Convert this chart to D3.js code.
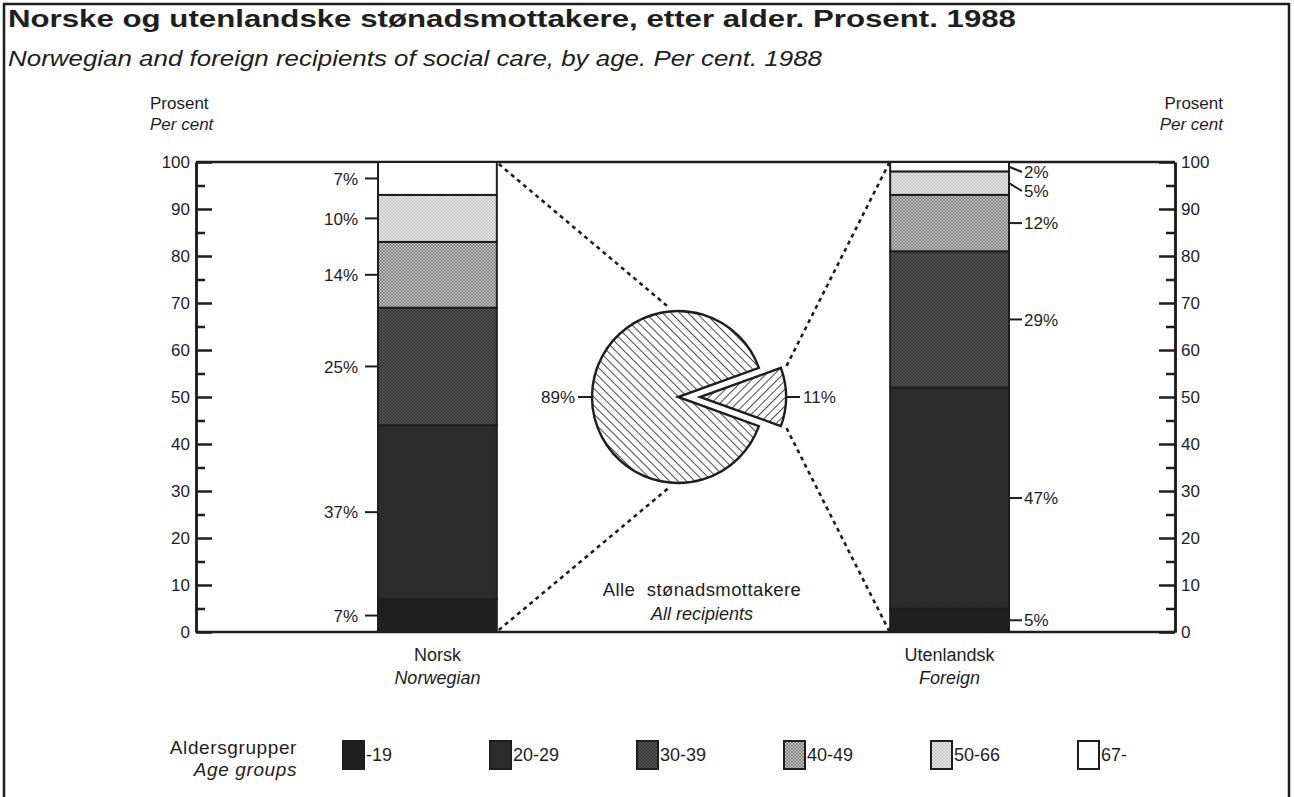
<!DOCTYPE html>
<html><head><meta charset="utf-8">
<script src="https://cdn.jsdelivr.net/npm/d3@7"></script>
<style>
body{margin:0;background:#fff;}
svg{display:block;font-family:"Liberation Sans",Arial,Helvetica,sans-serif;}
</style></head><body>
<svg id="chart" width="1294" height="797"></svg>
<script>
// ---------- data ----------
const ageGroups = ["-19","20-29","30-39","40-49","50-66","67-"];
const categories = ["Norsk","Utenlandsk"];
const categoriesEn = ["Norwegian","Foreign"];
const norwegianValues = [7,37,25,14,10,7];
const foreignValues = [5,47,29,12,5,2];
const pieValues = [89,11];
const pieLabels = ["89%","11%"];
const yTicks = [0,10,20,30,40,50,60,70,80,90,100];
const yMinorTicks = [5,15,25,35,45,55,65,75,85,95];
const titleNo = "Norske og utenlandske stønadsmottakere, etter alder. Prosent. 1988";
const titleEn = "Norwegian and foreign recipients of social care, by age. Per cent. 1988";
const legendTitle = ["Aldersgrupper","Age groups"];
const axisTitle = ["Prosent","Per cent"];
const pieTitle = ["Alle stønadsmottakere","All recipients"];

// ---------- setup ----------
const svg = d3.select("#chart");
const ink = "#1e1e1e";
const defs = svg.append("defs");

function dotPattern(id, bg, dot, size, r){
  const p = defs.append("pattern").attr("id",id).attr("patternUnits","userSpaceOnUse")
    .attr("width",size).attr("height",size);
  p.append("rect").attr("width",size).attr("height",size).attr("fill",bg);
  p.append("circle").attr("cx",size/2).attr("cy",size/2).attr("r",r).attr("fill",dot);
  [[0,0],[size,0],[0,size],[size,size]].forEach(c=>
    p.append("circle").attr("cx",c[0]).attr("cy",c[1]).attr("r",r).attr("fill",dot));
}
dotPattern("pat1","#262626","#3a3a3a",3.2,0.7);
dotPattern("pat2","#2e2e2e","#6a6a6a",3.2,0.8);
dotPattern("pat3","#5c5c5c","#d4d4d4",3.2,0.95);
dotPattern("pat4","#f2f2f2","#a0a0a0",3.2,0.75);
const fills = ["#1f1f1f","url(#pat1)","url(#pat2)","url(#pat3)","url(#pat4)","#ffffff"];

function hatch(id, angle){
  const p = defs.append("pattern").attr("id",id).attr("patternUnits","userSpaceOnUse")
    .attr("width",6).attr("height",6).attr("patternTransform",`rotate(${angle})`);
  p.append("rect").attr("width",6).attr("height",6).attr("fill","#fff");
  p.append("line").attr("x1",0).attr("y1",0).attr("x2",0).attr("y2",6)
    .attr("stroke",ink).attr("stroke-width",1.6);
}
hatch("hatchBig",-45);
hatch("hatchSmall",45);

// outer frame
svg.append("rect").attr("x",4).attr("y",4).attr("width",1285).attr("height",810)
  .attr("fill","none").attr("stroke",ink).attr("stroke-width",2.5);

// titles
svg.append("text").attr("x",8).attr("y",27).attr("font-size",23).attr("font-weight","bold")
  .attr("fill",ink).attr("textLength",1008).attr("lengthAdjust","spacingAndGlyphs").text(titleNo);
svg.append("text").attr("x",8).attr("y",66).attr("font-size",22).attr("font-style","italic")
  .attr("fill",ink).attr("textLength",814).attr("lengthAdjust","spacingAndGlyphs").text(titleEn);

// ---------- scales ----------
const plotL = 196, plotR = 1175;
const y = d3.scaleLinear().domain([0,100]).range([632,162]);
const x = d3.scaleBand().domain(categories).range([378,1009]).paddingInner(0.768).paddingOuter(0);
const bw = x.bandwidth();

// plot box top/bottom lines
svg.append("line").attr("x1",plotL).attr("x2",plotR).attr("y1",y(100)).attr("y2",y(100))
  .attr("stroke",ink).attr("stroke-width",2.5);
svg.append("line").attr("x1",plotL).attr("x2",plotR).attr("y1",y(0)).attr("y2",y(0))
  .attr("stroke",ink).attr("stroke-width",2.5);

// axes
function styleAxis(g){
  g.select(".domain").attr("stroke",ink).attr("stroke-width",2.5);
  g.selectAll(".tick line").attr("stroke",ink).attr("stroke-width",2.5);
  g.selectAll(".tick text").attr("fill",ink).attr("font-size",17)
    .attr("font-family","'Liberation Sans',Arial,sans-serif");
}
const gL = svg.append("g").attr("transform",`translate(${plotL},0)`)
  .call(d3.axisLeft(y).tickValues(yTicks).tickSizeInner(-16).tickSizeOuter(0).tickPadding(6));
styleAxis(gL);
const gLm = svg.append("g").attr("transform",`translate(${plotL},0)`)
  .call(d3.axisLeft(y).tickValues(yMinorTicks).tickSizeInner(-9).tickSizeOuter(0).tickFormat(""));
styleAxis(gLm);
const gR = svg.append("g").attr("transform",`translate(${plotR},0)`)
  .call(d3.axisRight(y).tickValues(yTicks).tickSizeInner(-16).tickSizeOuter(0).tickPadding(6));
styleAxis(gR);
const gRm = svg.append("g").attr("transform",`translate(${plotR},0)`)
  .call(d3.axisRight(y).tickValues(yMinorTicks).tickSizeInner(-9).tickSizeOuter(0).tickFormat(""));
styleAxis(gRm);

// axis titles
svg.append("text").attr("x",150).attr("y",109).attr("font-size",17).attr("fill",ink).text(axisTitle[0]);
svg.append("text").attr("x",150).attr("y",130).attr("font-size",17).attr("font-style","italic").attr("fill",ink).text(axisTitle[1]);
svg.append("text").attr("x",1223).attr("y",109).attr("font-size",17).attr("text-anchor","end").attr("fill",ink).text(axisTitle[0]);
svg.append("text").attr("x",1223).attr("y",130).attr("font-size",17).attr("font-style","italic").attr("text-anchor","end").attr("fill",ink).text(axisTitle[1]);

// ---------- stacked bars ----------
const rows = categories.map((c,i)=>{
  const vals = i===0 ? norwegianValues : foreignValues;
  const o = {cat:c};
  ageGroups.forEach((g,k)=>o[g]=vals[k]);
  return o;
});
const series = d3.stack().keys(ageGroups)(rows);

const gBars = svg.append("g");
series.forEach((s,k)=>{
  gBars.selectAll(null).data(s).enter().append("rect")
    .attr("x",d=>x(d.data.cat)).attr("width",bw)
    .attr("y",d=>y(d[1])).attr("height",d=>y(d[0])-y(d[1]))
    .attr("fill",fills[k]).attr("stroke",ink).attr("stroke-width",2);
});

// segment labels
categories.forEach((c,j)=>{
  const left = j===0;
  const x0 = left ? x(c) : x(c)+bw;
  const dir = left ? -1 : 1;
  let prev = -Infinity;
  for(let k=ageGroups.length-1;k>=0;k--){
    const d = series[k][j];
    const v = d[1]-d[0];
    const midY = y((d[0]+d[1])/2);
    const ly = Math.max(midY, prev+19, y(100)+10);
    prev = ly;
    svg.append("line").attr("x1",x0).attr("y1",midY).attr("x2",x0+dir*13).attr("y2",ly)
      .attr("stroke",ink).attr("stroke-width",2);
    svg.append("text").attr("x",x0+dir*(left?20:15)).attr("y",ly).attr("dy","0.36em")
      .attr("text-anchor",left?"end":"start").attr("font-size",17).attr("fill",ink)
      .text(v+"%");
  }
  // category labels
  svg.append("text").attr("x",x(c)+bw/2).attr("y",661).attr("text-anchor","middle")
    .attr("font-size",18).attr("fill",ink).text(c);
  svg.append("text").attr("x",x(c)+bw/2).attr("y",684).attr("text-anchor","middle")
    .attr("font-size",18).attr("font-style","italic").attr("fill",ink).text(categoriesEn[j]);
});

// ---------- pie ----------
const pieCx = 678, pieCy = 397, pieR = 86, explode = 22;
const total = d3.sum(pieValues);
const gap = 2*Math.PI*pieValues[1]/total;
const start = Math.PI/2 + gap/2;
const arcsData = d3.pie().sort(null).startAngle(start).endAngle(start+2*Math.PI)(pieValues);
const arc = d3.arc().innerRadius(0).outerRadius(pieR);
const gPie = svg.append("g").attr("transform",`translate(${pieCx},${pieCy})`);
const offsets = arcsData.map((a,i)=>{
  if(i===0) return [0,0];
  const m = (a.startAngle+a.endAngle)/2;
  return [Math.sin(m)*explode, -Math.cos(m)*explode];
});
gPie.selectAll("path").data(arcsData).enter().append("path")
  .attr("d",arc)
  .attr("transform",(d,i)=>`translate(${offsets[i][0]},${offsets[i][1]})`)
  .attr("fill",(d,i)=>i===0?"url(#hatchBig)":"url(#hatchSmall)")
  .attr("stroke",ink).attr("stroke-width",2.4).attr("stroke-linejoin","miter");

// pie labels
arcsData.forEach((a,i)=>{
  const m = (a.startAngle+a.endAngle)/2;
  const sx = Math.sin(m), sy = -Math.cos(m);
  const ox = pieCx+offsets[i][0], oy = pieCy+offsets[i][1];
  const p1 = [ox+sx*pieR, oy+sy*pieR], p2 = [ox+sx*(pieR+14), oy+sy*(pieR+14)];
  svg.append("line").attr("x1",p1[0]).attr("y1",p1[1]).attr("x2",p2[0]).attr("y2",p2[1])
    .attr("stroke",ink).attr("stroke-width",2);
  svg.append("text").attr("x",p2[0]+sx*3).attr("y",p2[1]).attr("dy","0.36em")
    .attr("text-anchor",sx<0?"end":"start").attr("font-size",17).attr("fill",ink).text(pieLabels[i]);
});

// dotted connectors
function pt(cx,cy,r,ang){return [cx+Math.sin(ang)*r, cy-Math.cos(ang)*r];}
const deg = Math.PI/180;
const nRight = x(categories[0])+bw, fLeft = x(categories[1]);
const small = arcsData[1];
const sCx = pieCx+offsets[1][0], sCy = pieCy+offsets[1][1];
const connectors = [
  [[nRight+2,y(100)+2], pt(pieCx,pieCy,pieR+6,-7*deg)],
  [[nRight+2,y(0)-2], pt(pieCx,pieCy,pieR+4,185*deg)],
  [pt(sCx,sCy,pieR+6,small.startAngle), [fLeft-1,y(100)+1]],
  [pt(sCx,sCy,pieR+6,small.endAngle), [fLeft-1,y(0)-1]]
];
connectors.forEach(c=>{
  svg.append("line").attr("x1",c[0][0]).attr("y1",c[0][1]).attr("x2",c[1][0]).attr("y2",c[1][1])
    .attr("stroke",ink).attr("stroke-width",2.6).attr("stroke-dasharray","4,4");
});

svg.append("text").attr("x",702).attr("y",596).attr("text-anchor","middle").attr("font-size",18.5)
  .attr("fill",ink).attr("word-spacing",6).attr("letter-spacing",0.4).text(pieTitle[0]);
svg.append("text").attr("x",702).attr("y",620).attr("text-anchor","middle").attr("font-size",18)
  .attr("font-style","italic").attr("fill",ink).text(pieTitle[1]);

// ---------- legend ----------
svg.append("text").attr("x",297).attr("y",754).attr("text-anchor","end").attr("font-size",19)
  .attr("letter-spacing",0.6).attr("fill",ink).text(legendTitle[0]);
svg.append("text").attr("x",297).attr("y",776).attr("text-anchor","end").attr("font-size",19)
  .attr("letter-spacing",0.6).attr("font-style","italic").attr("fill",ink).text(legendTitle[1]);
const lx = d3.scalePoint().domain(ageGroups).range([343,1078]);
const gLeg = svg.append("g");
gLeg.selectAll("rect").data(ageGroups).enter().append("rect")
  .attr("x",d=>lx(d)).attr("y",741).attr("width",21).attr("height",28)
  .attr("fill",(d,i)=>fills[i]).attr("stroke",ink).attr("stroke-width",2);
gLeg.selectAll("text").data(ageGroups).enter().append("text")
  .attr("x",d=>lx(d)+23).attr("y",755).attr("dy","0.36em").attr("font-size",18)
  .attr("fill",ink).text(d=>d);
</script>
</body></html>
